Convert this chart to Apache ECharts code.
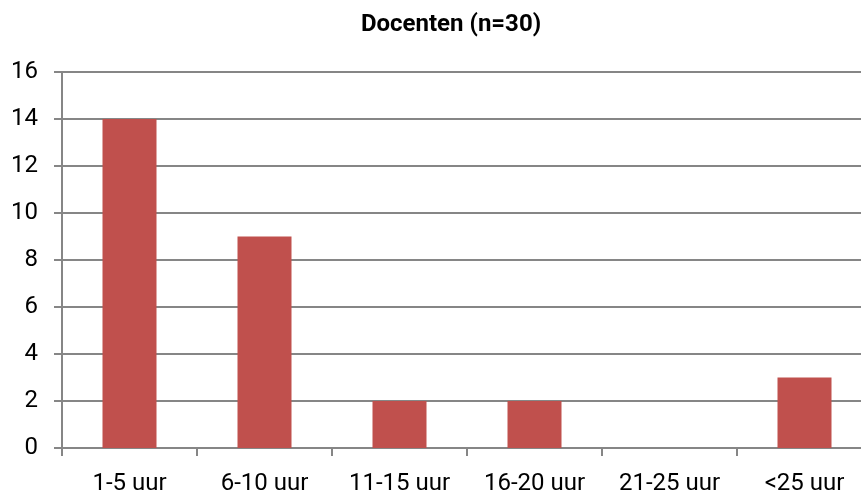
<!DOCTYPE html>
<html>
<head>
<meta charset="utf-8">
<script src="https://cdn.jsdelivr.net/npm/echarts@6/dist/echarts.min.js"></script>
<style>
  html, body { margin: 0; padding: 0; background: #fff; }
  #chart { width: 861px; height: 496px; }
</style>
</head>
<body>
<div id="chart"></div>
<script>
const categories = ['1-5 uur', '6-10 uur', '11-15 uur', '16-20 uur', '21-25 uur', '<25 uur']
const values = [14, 9, 2, 2, 0, 3]
const yTicks = { min: 0, max: 16, interval: 2 }

const font = '"Liberation Sans Narrow", "Roboto", sans-serif'
const chart = echarts.init(document.getElementById('chart'))

chart.setOption({
  animation: false,
  title: {
    text: 'Docenten (n=30)',
    left: 446,
    textAlign: 'center',
    top: 8,
    textStyle: { fontFamily: font, fontSize: 24, fontWeight: 'bold', color: '#000' }
  },
  grid: { left: 62, top: 72, width: 810, bottom: 48, containLabel: false, outerBoundsMode: 'none' },
  xAxis: {
    type: 'category',
    data: categories,
    axisLine: { lineStyle: { color: '#868686', width: 2 } },
    axisTick: { show: true, length: 8, lineStyle: { color: '#868686', width: 2 } },
    axisLabel: { fontFamily: font, fontSize: 24, color: '#000', margin: 24 }
  },
  yAxis: {
    type: 'value',
    min: yTicks.min,
    max: yTicks.max,
    interval: yTicks.interval,
    axisLine: { show: true, lineStyle: { color: '#868686', width: 2 } },
    axisTick: { show: true, length: 8, lineStyle: { color: '#868686', width: 2 } },
    splitLine: { lineStyle: { color: '#868686', width: 2 } },
    axisLabel: { fontFamily: font, fontSize: 24, color: '#000', margin: 24 }
  },
  series: [{
    type: 'bar',
    data: values,
    barWidth: 54,
    itemStyle: { color: '#c0504d' }
  }]
})
</script>
</body>
</html>
